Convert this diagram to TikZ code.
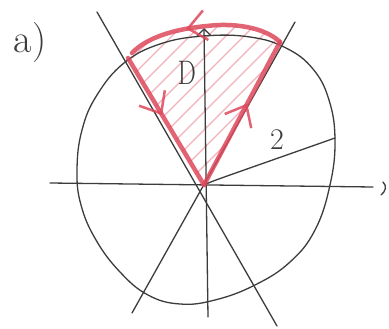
\documentclass[tikz,border=0pt]{standalone}
\usetikzlibrary{decorations.markings,arrows.meta}
\definecolor{ink}{RGB}{60,60,60}
\definecolor{marker}{RGB}{222,72,92}
\definecolor{hatchc}{RGB}{243,178,188}
\tikzset{
  inkline/.style={draw=ink, line width=1.3pt, line cap=round},
  redline/.style={draw=marker, line width=4.5pt, line cap=round, line join=round, opacity=0.85},
  hatchline/.style={draw=hatchc, line width=1.2pt},
  midarrow/.style={postaction={decorate}, decoration={markings,
     mark=at position #1 with {\arrow{Straight Barb[length=18pt,width=30pt,line width=2.5pt]}}}},
  lbl/.style={text=ink, inner sep=0pt}
}
\begin{document}
\begin{tikzpicture}[x=1pt,y=-1pt]
\useasboundingbox (0,0) rectangle (389,329);
\fill[white] (0,0) rectangle (389,329);
% key points
\coordinate (O) at (204,185);
\coordinate (L) at (128,58);
\coordinate (R) at (280,42);
\coordinate (Atop) at (97,12);
\coordinate (Abot) at (277,326);
\coordinate (Btop) at (295,22);
\coordinate (Bbot) at (132,313);
\coordinate (Vtop) at (204,28);
\coordinate (Vbot) at (208,317);
\coordinate (Hl) at (50,183);
\coordinate (Hr) at (373,187);
\coordinate (P) at (335,138);
% hatching
\begin{scope}
  \clip (O) -- (L) -- (132,53) .. controls (150,34) and (185,28) .. (207,26)
        .. controls (240,22) and (268,30) .. (R) -- cycle;
  \foreach \k in {-220,-202,...,220} {
    \draw[hatchline] (120+\k,200) -- (320+\k,0);
  }
\end{scope}
% circle
\draw[inkline] plot[smooth cycle, tension=0.7] coordinates {
  (204,36) (250,37) (286,48) (313,69) (329,100) (335,140) (330,185)
  (315,230) (290,262) (255,285) (215,300) (180,304) (148,295) (120,272)
  (96,240) (81,205) (77,170) (82,130) (97,95) (124,63) (160,44)};
% axes
\draw[inkline] (Hl) -- (Hr);
\draw[inkline] (383,182) .. controls (387,186) and (386,191) .. (381,195);
\draw[inkline, -{Straight Barb[length=7pt,width=14pt]}] (Vbot) -- (Vtop);
% lines through origin
\draw[inkline] (Atop) -- (Abot);
\draw[inkline] (Btop) -- (Bbot);
% radius
\draw[inkline] (O) .. controls (212,181) and (216,180) .. (P);
% red boundary
\draw[redline, midarrow=0.45] (L) -- (O);
\draw[redline, midarrow=0.57] (O) -- (R);
\draw[redline, midarrow=0.62] (R) .. controls (268,30) and (240,22) .. (207,26)
      .. controls (185,28) and (150,34) .. (132,53);
% labels
\node[lbl, font=\fontsize{40}{40}\selectfont] (la) at (30,43) {a)};
\node[lbl, font=\fontsize{34}{34}\selectfont, xscale=0.75] (lD) at (187,73) {D};
\node[lbl, font=\fontsize{30}{30}\selectfont] (l2) at (277,140) {2};
\end{tikzpicture}
\end{document}
